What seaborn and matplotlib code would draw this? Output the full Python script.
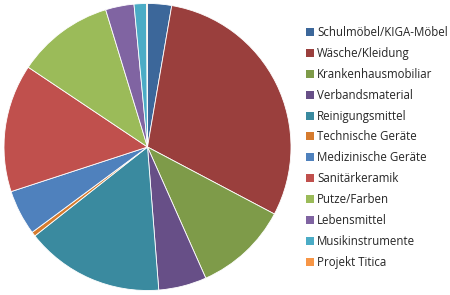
import matplotlib
matplotlib.use("Agg")
import matplotlib.pyplot as plt
import seaborn as sns
from matplotlib.patches import Patch

categories = ["Schulmöbel/KIGA-Möbel", "Wäsche/Kleidung", "Krankenhausmobiliar",
              "Verbandsmaterial", "Reinigungsmittel", "Technische Geräte",
              "Medizinische Geräte", "Sanitärkeramik", "Putze/Farben",
              "Lebensmittel", "Musikinstrumente", "Projekt Titica"]
values = [2.7, 30.0, 10.6, 5.4, 15.6, 0.5, 5.1, 14.4, 10.9, 3.2, 1.4, 0.1]
colors = ["#3C679A", "#9A3F3D", "#7E9B49", "#674F87", "#3A8A9F", "#D67B2E",
          "#4F81BD", "#C0504D", "#9BBB59", "#8064A2", "#4BACC6", "#F79646"]

sns.set_theme(style="white")
plt.rcParams['font.family'] = ['Open Sans', 'DejaVu Sans']

fig = plt.figure(figsize=(4.5, 2.95), dpi=100)
cx, cy, r = 147.5, 147, 143.5
ax = fig.add_axes([(cx - r) / 450, (295 - cy - r) / 295, 2 * r / 450, 2 * r / 295])
palette = sns.color_palette(colors)
ax.pie(values, colors=palette, startangle=90, counterclock=False,
       wedgeprops=dict(linewidth=0.6, edgecolor="white"))
ax.set_aspect("equal")
ax.set_xlim(-1, 1)
ax.set_ylim(-1, 1)
ax.axis("off")

handles = [Patch(facecolor=c, edgecolor="none") for c in palette]
leg = fig.legend(handles, categories, loc="upper left",
                 bbox_to_anchor=(306 / 450, 1 - 26 / 295), frameon=False,
                 fontsize=8.3, handlelength=0.7, handleheight=0.7,
                 handletextpad=0.27, labelspacing=0.685, borderaxespad=0,
                 borderpad=0)
for t in leg.get_texts():
    t.set_color("#262626")

fig.savefig("out.png", dpi=100)
